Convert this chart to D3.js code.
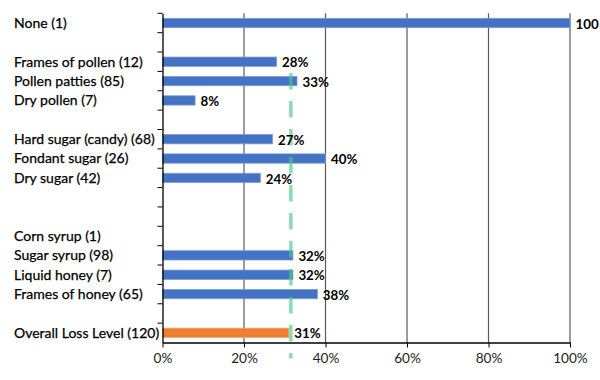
<!DOCTYPE html>
<html><head><meta charset="utf-8">
<script src="https://cdn.jsdelivr.net/npm/d3@7"></script>
<style>body{margin:0;background:#fff;} svg{display:block;}</style>
</head><body>
<svg id="c" width="600" height="380"></svg>
<script>
const categories = ["None (1)", "", "Frames of pollen (12)", "Pollen patties (85)", "Dry pollen (7)", " ",
  "Hard sugar (candy) (68)", "Fondant sugar (26)", "Dry sugar (42)", "  ", "   ",
  "Corn syrup (1)", "Sugar syrup (98)", "Liquid honey (7)", "Frames of honey (65)", "    ", "Overall Loss Level (120)"];
const values = [1.00, null, 0.28, 0.33, 0.08, null, 0.27, 0.40, 0.24, null, null, null, 0.32, 0.32, 0.38, null, 0.31];
const valueLabels = ["100", "", "28%", "33%", "8%", "", "27%", "40%", "24%", "", "", "", "32%", "32%", "38%", "", "31%"];
const overallIndex = 16;
const referenceLevel = 0.315;
const xTicks = [0, 0.2, 0.4, 0.6, 0.8, 1.0];

const svg = d3.select("#c");
const m = {left: 162.5, right: 30, top: 13.3, bottom: 37.5};
const W = 600, H = 380;
const x = d3.scaleLinear().domain([0, 1]).range([m.left, W - m.right]);
const y = d3.scaleBand().domain(categories).range([m.top, H - m.bottom]).paddingInner(0.52).paddingOuter(0.26);
const font = "Lato, 'Liberation Sans', sans-serif";

// gridlines
svg.append("g").selectAll("line").data(xTicks.slice(1)).join("line")
  .attr("x1", d => x(d)).attr("x2", d => x(d))
  .attr("y1", m.top).attr("y2", H - m.bottom)
  .attr("stroke", "#595959").attr("stroke-width", 1.2);

// bars
const rows = categories.map((c, i) => ({c, v: values[i], label: valueLabels[i], i})).filter(d => d.v != null);
svg.append("g").selectAll("rect").data(rows).join("rect")
  .attr("x", x(0)).attr("y", d => y(d.c))
  .attr("width", d => x(d.v) - x(0)).attr("height", y.bandwidth())
  .attr("fill", d => d.i === overallIndex ? "#ED7D31" : "#4472C4")
  .attr("stroke", d => d.i === overallIndex ? "#F4A46E" : "#7A9BD6").attr("stroke-width", 0.8);

// dashed reference line
svg.append("line")
  .attr("x1", x(referenceLevel)).attr("x2", x(referenceLevel))
  .attr("y1", 73).attr("y2", H - m.bottom + 16)
  .attr("stroke", "#4CC98A").attr("stroke-opacity", 0.65).attr("stroke-width", 3.5)
  .attr("stroke-dasharray", "16.5,11.5");

// x axis
const xAxis = d3.axisBottom(x).tickValues(xTicks).tickFormat(d3.format(".0%")).tickSize(5).tickSizeOuter(0);
const gx = svg.append("g").attr("transform", `translate(0,${H - m.bottom})`).call(xAxis);
gx.select(".domain").attr("stroke", "#000").attr("stroke-width", 1.3);
gx.selectAll(".tick line").attr("stroke", "#000");
gx.selectAll("text").attr("font-family", font).attr("font-size", 13.6).attr("fill", "#222").attr("dy", "0.95em");

// y axis
const yAxis = d3.axisLeft(y).tickSize(0).tickFormat("");
const gy = svg.append("g").attr("transform", `translate(${m.left},0)`).call(yAxis);
gy.select(".domain").attr("stroke", "#000").attr("stroke-width", 1.3);
// boundary ticks
const step = y.step();
const bounds = d3.range(categories.length).map(i => m.top + i * step);
svg.append("g").selectAll("line").data(bounds).join("line")
  .attr("x1", m.left - 5).attr("x2", m.left).attr("y1", d => d).attr("y2", d => d)
  .attr("stroke", "#000").attr("stroke-width", 1);

// category labels
svg.append("g").selectAll("text").data(categories.filter(c => c.trim() !== "")).join("text")
  .attr("x", 14).attr("y", d => y(d) + y.bandwidth() / 2).attr("dy", "0.35em")
  .attr("font-family", font).attr("font-size", 14).attr("fill", "#000")
  .attr("stroke", "#000").attr("stroke-width", 0.25).text(d => d);

// value labels
svg.append("g").selectAll("text").data(rows).join("text")
  .attr("x", d => x(d.v) + 5.5).attr("y", d => y(d.c) + y.bandwidth() / 2 + 1).attr("dy", "0.35em")
  .attr("font-family", font).attr("font-size", 13.3).attr("font-weight", 700).attr("fill", "#000")
  .text(d => d.label);
</script>
</body></html>
